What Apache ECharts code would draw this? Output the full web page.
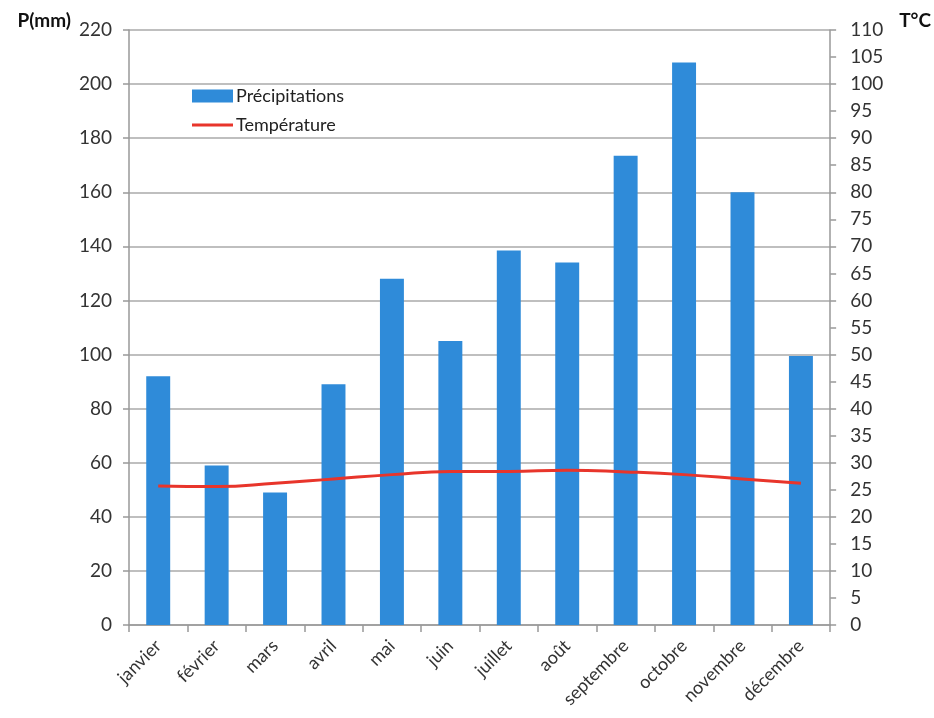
<!DOCTYPE html>
<html><head><meta charset="utf-8">
<script src="https://cdn.jsdelivr.net/npm/echarts@6/dist/echarts.min.js"></script>
<style>html,body{margin:0;padding:0;background:#fff}#c{width:934px;height:718px}</style>
</head><body><div id="c"></div>
<script>
const months = ['janvier','février','mars','avril','mai','juin','juillet','août','septembre','octobre','novembre','décembre'];
const precipitations = [92, 59, 49, 89, 128, 105, 138.5, 134, 173.5, 208, 160, 99.5];
const temperature = [25.7, 25.6, 26.2, 27.0, 27.8, 28.4, 28.4, 28.6, 28.3, 27.8, 27.0, 26.2];
const FONT = 'Lato, "Open Sans", sans-serif';
const chart = echarts.init(document.getElementById('c'));
chart.setOption({
  animation: false,
  textStyle: {fontFamily: FONT},
  grid: {left: 129, right: 103, top: 30, bottom: 93},
  legend: {
    orient: 'vertical', left: 192, top: 87, itemGap: 11, padding: 0,
    itemWidth: 41, itemHeight: 13,
    textStyle: {fontSize: 18, color: '#222', fontFamily: FONT, padding: [0, 0, 0, -2]},
    data: [{name: 'Précipitations', icon: 'rect'}, {name: 'Température', icon: 'path://M0,6 L42,6 L42,9 L0,9 Z'}]
  },
  xAxis: {
    type: 'category', data: months, boundaryGap: true,
    axisLine: {lineStyle: {color: '#999', width: 1.5}},
    axisTick: {show: true, alignWithLabel: false, length: 7, lineStyle: {color: '#999', width: 1.5}},
    axisLabel: {rotate: 45, fontSize: 18, color: '#333', margin: 18, interval: 0, fontFamily: FONT}
  },
  yAxis: [{
    type: 'value', min: 0, max: 220, interval: 20, position: 'left',
    name: 'P(mm)', nameLocation: 'end', nameGap: 0,
    nameTextStyle: {fontWeight: 'bold', fontSize: 19, color: '#111', align: 'right', verticalAlign: 'bottom', padding: [0, 58, 0, 0], fontFamily: FONT},
    axisLine: {show: true, lineStyle: {color: '#999', width: 1.5}},
    axisTick: {show: true, length: 6, lineStyle: {color: '#999', width: 1.5}},
    axisLabel: {fontSize: 19, color: '#333', margin: 17, fontFamily: FONT},
    splitLine: {show: true, lineStyle: {color: '#aaa', width: 1.5}}
  }, {
    type: 'value', min: 0, max: 110, interval: 5, position: 'right',
    name: 'T°C', nameLocation: 'end', nameGap: 0,
    nameTextStyle: {fontWeight: 'bold', fontSize: 19, color: '#111', align: 'left', verticalAlign: 'bottom', padding: [0, 0, 0, 69], fontFamily: FONT},
    axisLine: {show: true, lineStyle: {color: '#999', width: 1.5}},
    axisTick: {show: true, length: 6, lineStyle: {color: '#999', width: 1.5}},
    axisLabel: {fontSize: 19, color: '#333', margin: 20, fontFamily: FONT},
    splitLine: {show: false}
  }],
  series: [{
    name: 'Précipitations', type: 'bar', data: precipitations, yAxisIndex: 0,
    barWidth: '41%', itemStyle: {color: '#2f8bd9'}
  }, {
    name: 'Température', type: 'line', data: temperature, yAxisIndex: 1,
    smooth: true, symbol: 'none', lineStyle: {color: '#e8352b', width: 3},
    itemStyle: {color: '#e8352b'}
  }]
});
</script></body></html>
